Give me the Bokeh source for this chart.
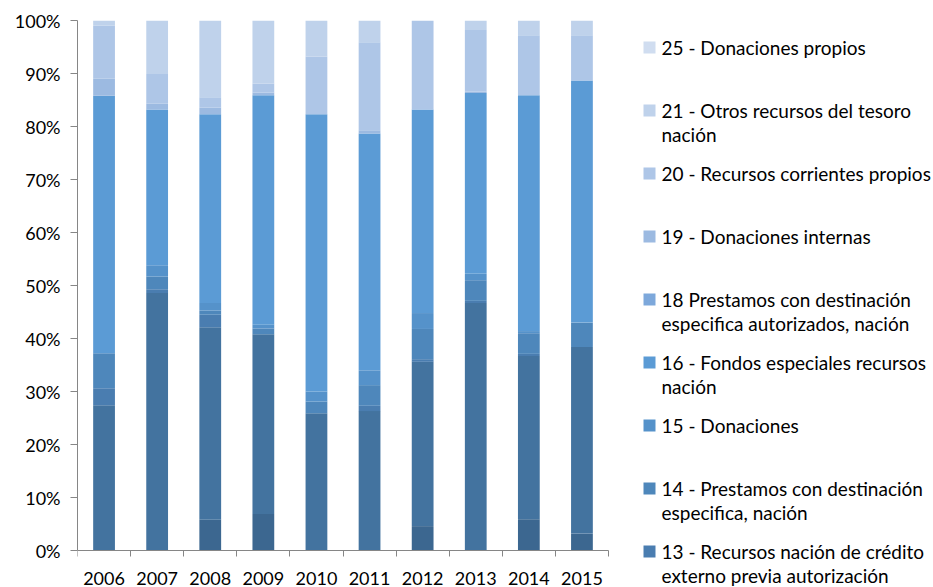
from bokeh.plotting import figure
from bokeh.models import ColumnDataSource, Range1d, FixedTicker, PrintfTickFormatter, Label
from bokeh.embed import file_html
from bokeh.resources import INLINE

# ---------------- data (percent of each year's total) ----------------
years = ["2006", "2007", "2008", "2009", "2010", "2011", "2012", "2013", "2014", "2015"]

s10 = [0.0, 0.0, 5.8, 6.9, 0.0, 0.0, 4.6, 0.0, 5.9, 3.2]
s11 = [27.4, 48.6, 36.3, 33.9, 25.9, 26.3, 31.0, 46.7, 30.8, 35.2]
s13 = [3.2, 0.7, 2.4, 0.0, 0.0, 1.0, 0.5, 0.4, 0.4, 0.0]
s14 = [6.6, 2.4, 0.8, 1.1, 2.2, 3.9, 5.7, 3.9, 3.9, 4.6]
s15 = [0.0, 2.1, 1.4, 0.7, 1.9, 2.8, 3.0, 1.2, 0.4, 0.0]
s16 = [48.6, 29.4, 35.6, 43.3, 52.3, 44.7, 38.4, 34.1, 44.5, 45.7]
s18 = [0.0, 0.0, 0.0, 0.0, 0.0, 0.0, 0.0, 0.0, 0.0, 0.0]
s19 = [3.2, 1.1, 1.3, 0.5, 0.0, 0.6, 0.0, 0.3, 0.0, 0.0]
s20 = [10.0, 5.6, 1.9, 1.7, 10.9, 16.6, 16.8, 11.6, 11.3, 8.5]
s21 = [1.0, 10.1, 14.5, 11.9, 6.8, 4.1, 0.0, 1.8, 2.8, 2.8]
s25 = [0.0, 0.0, 0.0, 0.0, 0.0, 0.0, 0.0, 0.0, 0.0, 0.0]

# stacking order, bottom to top
series_keys = ["s10", "s11", "s13", "s14", "s15", "s16", "s18", "s19", "s20", "s21", "s25"]
series_values = [s10, s11, s13, s14, s15, s16, s18, s19, s20, s21, s25]
series_colors = ["#3C6790", "#43739F", "#4A7DB0", "#4E87BB", "#5592CA", "#5B9BD5",
                 "#7DA8DB", "#9CBAE1", "#AEC6E7", "#BFD2EB", "#D0DDF0"]

# legend as shown (top to bottom); the two lowest series are cut off in the legend
legend_labels = [
    "25 - Donaciones propios",
    "21 - Otros recursos del tesoro\nnación",
    "20 - Recursos corrientes propios",
    "19 - Donaciones internas",
    "18 Prestamos con destinación\nespecifica autorizados, nación",
    "16 - Fondos especiales recursos\nnación",
    "15 - Donaciones",
    "14 - Prestamos con destinación\nespecifica, nación",
    "13 - Recursos nación de crédito\nexterno previa autorización",
]
legend_colors = series_colors[::-1][:len(legend_labels)]

y_ticks = list(range(0, 101, 10))

FONT = "Lato"
TXT = "#000000"
AXIS = "#868686"

# ---------------- layout (pixels on the page) ----------------
W, H = 933, 587
PL, PR, PT, PB = 77, 608, 20, 550      # plot area of the bars / axes
n = len(years)

# The frame covers the whole area right/below of the axes so that the legend
# (drawn beside the chart) is not clipped; ranges are chosen so the bar area
# still maps onto PL..PR and PT..PB.
x_end = n * (W - PL) / (PR - PL)
y_start = -100.0 * (H - PB) / (PB - PT)

centers = [i + 0.5 for i in range(n)]
data = {"x": centers}
for k, v in zip(series_keys, series_values):
    data[k] = v
src = ColumnDataSource(data)

p = figure(width=W, height=H, x_range=Range1d(0, x_end), y_range=Range1d(y_start, 100),
           toolbar_location=None, output_backend="svg",
           min_border_left=PL, min_border_right=0, min_border_top=PT, min_border_bottom=0)
p.outline_line_color = None
p.grid.visible = False

p.vbar_stack(series_keys, x="x", width=0.41, color=series_colors, line_color=None, source=src)

ya = p.yaxis[0]
ya.bounds = (0, 100)
ya.ticker = FixedTicker(ticks=y_ticks, minor_ticks=[])
ya.formatter = PrintfTickFormatter(format="%d%%")
ya.major_tick_out = 7
ya.major_tick_in = 0
ya.minor_tick_out = 0
ya.axis_line_color = AXIS
ya.major_tick_line_color = AXIS
ya.major_label_text_font = FONT
ya.major_label_text_font_size = "18px"
ya.major_label_text_color = TXT
ya.major_label_standoff = 10

xa = p.xaxis[0]
xa.fixed_location = 0
xa.bounds = (0, n)
xa.ticker = FixedTicker(ticks=centers, minor_ticks=list(range(0, n + 1)))
xa.major_label_overrides = {c: y for c, y in zip(centers, years)}
xa.major_tick_out = 0
xa.major_tick_in = 0
xa.minor_tick_out = 6
xa.minor_tick_in = 0
xa.minor_tick_line_color = AXIS
xa.axis_line_color = AXIS
xa.major_label_text_font = FONT
xa.major_label_text_font_size = "18px"
xa.major_label_text_color = TXT
xa.major_label_standoff = 15

# ---------------- legend ----------------
first_y, slot, line_gap = 47, 63, 24     # page pixels
sw_px, text_px, sw = 649, 661, 12


def px_to_x(px):
    return (px - PL) / (W - PL) * x_end


def py_to_y(py):
    return y_start + (H - py) / (H - PT) * (100 - y_start)


sw_xs, sw_ys = [], []
for i, (lab, col) in enumerate(zip(legend_labels, legend_colors)):
    yc = first_y + i * slot
    sw_xs.append(px_to_x(sw_px))
    sw_ys.append(py_to_y(yc))
    for j, line in enumerate(lab.split("\n")):
        p.add_layout(Label(x=text_px - PL, y=H - (yc + j * line_gap),
                           x_units="screen", y_units="screen", text=line,
                           text_font=FONT, text_font_size="19px", text_color=TXT,
                           text_baseline="middle", text_align="left"))

p.rect(x=sw_xs, y=sw_ys, width=sw, height=sw, width_units="screen", height_units="screen",
       color=legend_colors, line_color=None)

open("out.html", "w").write(file_html(p, INLINE))
